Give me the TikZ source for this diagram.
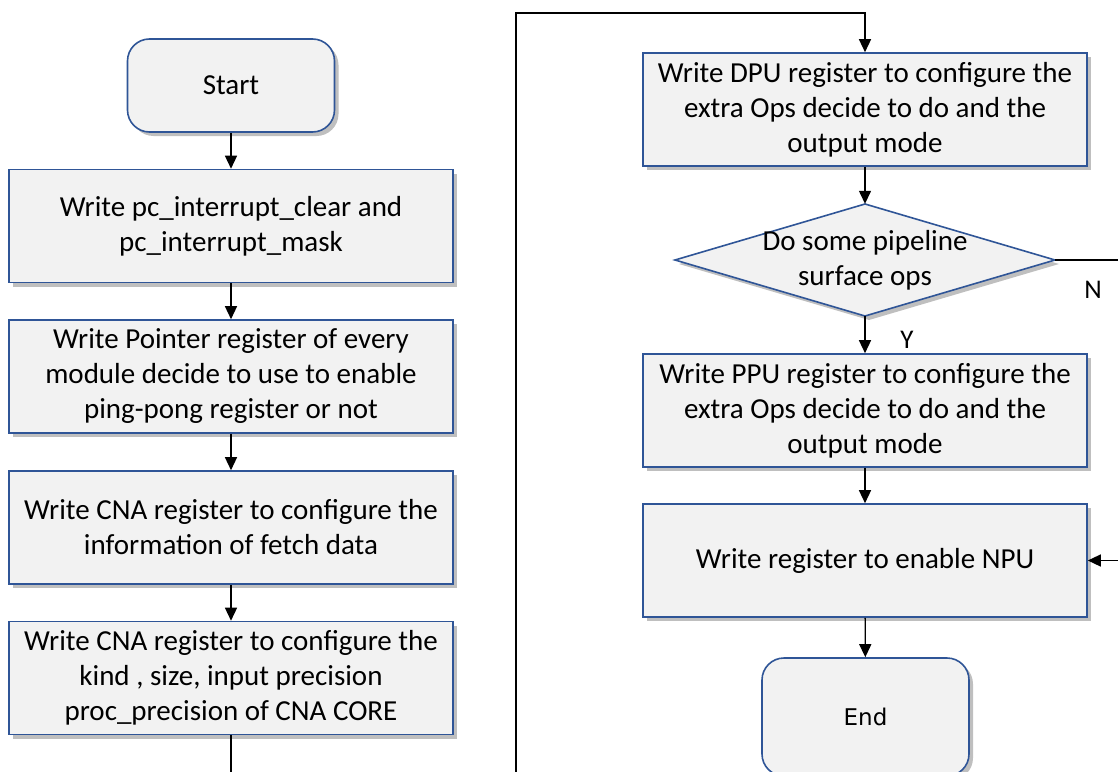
\documentclass[tikz,border=0pt]{standalone}
\usepackage{fontspec}
\setmainfont{Carlito}
\newfontfamily\endfont{DejaVu Sans}
\usetikzlibrary{shapes.geometric,shadows,arrows.meta}
\definecolor{bordc}{HTML}{2F5597}
\definecolor{boxf}{HTML}{F2F2F2}
\begin{document}
\begin{tikzpicture}[x=1pt,y=-1pt,
  shad/.style={drop shadow={shadow xshift=4pt, shadow yshift=-4pt, opacity=0.25, fill=black}},
  box/.style={draw=bordc, line width=1.6pt, fill=boxf, shad, minimum width=444pt, minimum height=113pt, align=center, font=\fontsize{29}{35}\selectfont, inner sep=0pt},
  term/.style={box, rounded corners=22pt, minimum width=207pt, minimum height=93pt},
  arr/.style={line width=1.4pt, -{Triangle[length=13pt,width=12pt]}},
  lbl/.style={font=\fontsize{27}{32}\selectfont}]
\useasboundingbox (0,0) rectangle (1118,771);
\fill[white] (0,0) rectangle (1118,771);
\clip (0,0) rectangle (1118,771);

% left column
\node[term] (start) at (231,85.5) {Start};
\node[box] (b1) at (231,226) {Write pc\_interrupt\_clear and\\pc\_interrupt\_mask};
\node[box] (b2) at (231,376.5) {Write Pointer register of every\\module decide to use to enable\\ping-pong register or not};
\node[box] (b3) at (231,527.5) {Write CNA register to configure the\\information of fetch data};
\node[box] (b4) at (231,678) {Write CNA register to configure the\\kind , size, input precision\\proc\_precision of CNA CORE};

% right column
\node[box] (dpu) at (865,109.5) {Write DPU register to configure the\\extra Ops decide to do and the\\output mode};
\path[draw=bordc, line width=1.6pt, fill=boxf, shad] (675,260) -- (865,204) -- (1055,260) -- (865,316) -- cycle;
\node[minimum width=380pt, minimum height=112pt, inner sep=0pt, align=center, font=\fontsize{29}{35}\selectfont] (dec) at (865,260) {Do some pipeline\\surface ops};
\node[box] (ppu) at (865,410.5) {Write PPU register to configure the\\extra Ops decide to do and the\\output mode};
\node[box] (npu) at (865,560.5) {Write register to enable NPU};
\node[term, minimum height=118pt, font=\endfont\fontsize{23}{28}\selectfont] (end) at (865.5,717) {End};

\node[lbl] (ylab) at (907,340) {Y};
\node[lbl] (nlab) at (1093,290) {N};

% connectors
\coordinate (lb) at (231,800);
\coordinate (lt) at (516,13);
\coordinate (nr) at (1140,260);
\draw[arr] (start) -- (b1);
\draw[arr] (b1) -- (b2);
\draw[arr] (b2) -- (b3);
\draw[arr] (b3) -- (b4);
\draw[arr] (b4.south) -- (lb) -| (lt) -| (dpu.north);
\draw[arr] (dpu.south) -- (dec.north);
\draw[arr] (dec.south) -- (ppu.north);
\draw[line width=1.4pt] (dec.east) -- (nr);
\draw[arr] (nr) |- (npu.east);
\draw[arr] (ppu) -- (npu);
\draw[arr] (npu) -- (end);
\end{tikzpicture}
\end{document}
